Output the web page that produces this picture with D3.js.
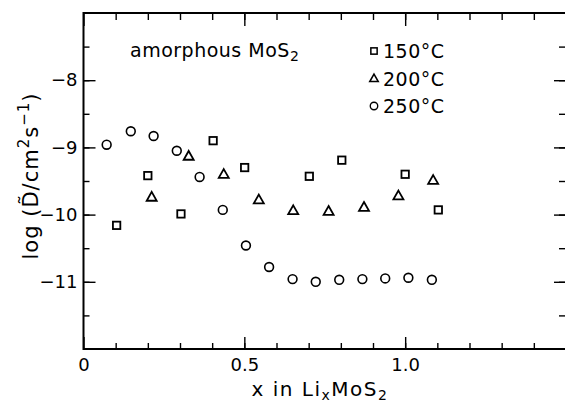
<!DOCTYPE html>
<html>
<head>
<meta charset="utf-8">
<script src="https://cdn.jsdelivr.net/npm/d3@7.9.0/dist/d3.min.js"></script>
<style>
    html, body { margin: 0; padding: 0; background: #fff; }
    svg { display: block; }
    text { font-family: "DejaVu Sans", "Liberation Sans", sans-serif; fill: #000; }
</style>
</head>
<body>
<svg id="chart" width="565" height="402"></svg>
<script>
// data: log D vs x in LixMoS2
var x150 = [0.103, 0.200, 0.303, 0.403, 0.501, 0.702, 0.803, 1.000, 1.103]
var y150 = [-10.16, -9.42, -9.99, -8.90, -9.30, -9.43, -9.19, -9.40, -9.93]

var x200 = [0.212, 0.327, 0.436, 0.545, 0.652, 0.762, 0.872, 0.979, 1.087]
var y200 = [-9.74, -9.13, -9.40, -9.78, -9.94, -9.95, -9.89, -9.72, -9.49]

var x250 = [0.072, 0.147, 0.218, 0.290, 0.361, 0.433, 0.505, 0.577, 0.650, 0.722, 0.795, 0.867, 0.938, 1.010, 1.083]
var y250 = [-8.96, -8.76, -8.83, -9.05, -9.44, -9.93, -10.46, -10.78, -10.96, -11.00, -10.97, -10.96, -10.95, -10.94, -10.97]

var seriesNames = ['150°C', '200°C', '250°C']
var xMajor = [0, 0.5, 1.0]
var yMajor = [-11, -10, -9, -8]

;(function () {
    var svg = d3.select('#chart')
    var left = 83.5, right = 566, top = 13, bottom = 349

    var x = d3.scaleLinear().domain([0, 1.5]).range([left, right])
    var y = d3.scaleLinear().domain([-12, -7]).range([bottom, top])

    var xMinor = d3.range(1, 15).map(function (i) { return i / 10 })
    var yMinor = d3.range(-23, -14).map(function (i) { return i / 2 })

    function fmtX(d) { return d === 0 ? '0' : d3.format('.1f')(d) }

    function styleAxis(g) {
        g.select('.domain').remove()
        g.selectAll('line').attr('stroke', '#000').attr('stroke-width', 1.4)
        g.selectAll('text')
            .attr('font-size', 18)
            .style('font-family', '"DejaVu Sans", sans-serif')
    }

    // minor ticks (all four sides, inward)
    svg.append('g').attr('transform', 'translate(0,' + bottom + ')')
        .call(d3.axisBottom(x).tickValues(xMinor).tickSize(-6).tickFormat(''))
        .call(styleAxis)
    svg.append('g').attr('transform', 'translate(0,' + top + ')')
        .call(d3.axisTop(x).tickValues(xMinor).tickSize(-7).tickFormat(''))
        .call(styleAxis)
    svg.append('g').attr('transform', 'translate(' + left + ',0)')
        .call(d3.axisLeft(y).tickValues(yMinor).tickSize(-6).tickFormat(''))
        .call(styleAxis)
    svg.append('g').attr('transform', 'translate(' + right + ',0)')
        .call(d3.axisRight(y).tickValues(yMinor).tickSize(-7).tickFormat(''))
        .call(styleAxis)

    // major ticks with labels
    svg.append('g').attr('transform', 'translate(0,' + bottom + ')')
        .call(d3.axisBottom(x).tickValues(xMajor).tickSize(-12).tickPadding(9).tickFormat(fmtX))
        .call(styleAxis)
    svg.append('g').attr('transform', 'translate(0,' + top + ')')
        .call(d3.axisTop(x).tickValues(xMajor.concat([1.5])).tickSize(-13).tickFormat(''))
        .call(styleAxis)
    svg.append('g').attr('transform', 'translate(' + left + ',0)')
        .call(d3.axisLeft(y).tickValues(yMajor).tickSize(-12).tickPadding(6)
            .tickFormat(function (d) { return '\u2212' + Math.abs(d) }))
        .call(styleAxis)
    svg.append('g').attr('transform', 'translate(' + right + ',0)')
        .call(d3.axisRight(y).tickValues(yMajor).tickSize(-12).tickFormat(''))
        .call(styleAxis)

    // frame
    svg.append('rect')
        .attr('x', left).attr('y', top)
        .attr('width', right - left).attr('height', bottom - top)
        .attr('fill', 'none').attr('stroke', '#000').attr('stroke-width', 2)

    // axis titles
    var xt = svg.append('text')
        .attr('x', 320).attr('y', 396)
        .attr('text-anchor', 'middle').attr('font-size', 20)
        .attr('letter-spacing', 1.5)
    xt.append('tspan').text('x in Li')
    xt.append('tspan').attr('font-size', 14).attr('dy', 4).text('x')
    xt.append('tspan').attr('dy', -4).text('MoS')
    xt.append('tspan').attr('font-size', 14).attr('dy', 4).text('2')

    var yt = svg.append('text')
        .attr('transform', 'translate(38,176) rotate(-90)')
        .attr('text-anchor', 'middle').attr('font-size', 21)
        .attr('letter-spacing', 1)
    yt.append('tspan').text('log (D\u0303/cm')
    yt.append('tspan').attr('font-size', 15).attr('dy', -9).text('2')
    yt.append('tspan').attr('dy', 9).text('s')
    yt.append('tspan').attr('font-size', 15).attr('dy', -9).text('\u22121')
    yt.append('tspan').attr('dy', 9).text(')')

    // annotation
    var ann = svg.append('text')
        .attr('x', 130).attr('y', 57).attr('font-size', 19)
        .attr('letter-spacing', 0.5)
    ann.append('tspan').text('amorphous MoS')
    ann.append('tspan').attr('font-size', 14).attr('dy', 4).text('2')

    // markers
    function square(g) {
        g.append('rect').attr('x', -3.7).attr('y', -3.7).attr('width', 7.4).attr('height', 7.4)
            .attr('fill', 'none').attr('stroke', '#000').attr('stroke-width', 1.8)
    }
    function triangle(g) {
        g.append('path').attr('d', 'M0,-5.2L5,3.6L-5,3.6Z')
            .attr('fill', 'none').attr('stroke', '#000').attr('stroke-width', 1.8)
    }
    function circle(g) {
        g.append('circle').attr('r', 4.4)
            .attr('fill', 'none').attr('stroke', '#000').attr('stroke-width', 1.6)
    }
    var series = [
        { xs: x150, ys: y150, draw: square },
        { xs: x200, ys: y200, draw: triangle },
        { xs: x250, ys: y250, draw: circle },
    ]

    series.forEach(function (s) {
        var pts = s.xs.map(function (v, i) { return [v, s.ys[i]] })
        svg.append('g').selectAll('g')
            .data(pts)
            .join('g')
            .attr('transform', function (d) { return 'translate(' + x(d[0]) + ',' + y(d[1]) + ')' })
            .each(function () { s.draw(d3.select(this)) })
    })

    // legend
    var leg = svg.append('g')
    series.forEach(function (s, i) {
        var ly = 51 + i * 27.5
        var m = leg.append('g').attr('transform', 'translate(374,' + ly + ') scale(0.85)')
        s.draw(m)
        leg.append('text')
            .attr('x', 383).attr('y', ly + 7)
            .attr('font-size', 19)
            .attr('letter-spacing', 0.5)
            .text(seriesNames[i])
    })
})()
</script>
</body>
</html>
